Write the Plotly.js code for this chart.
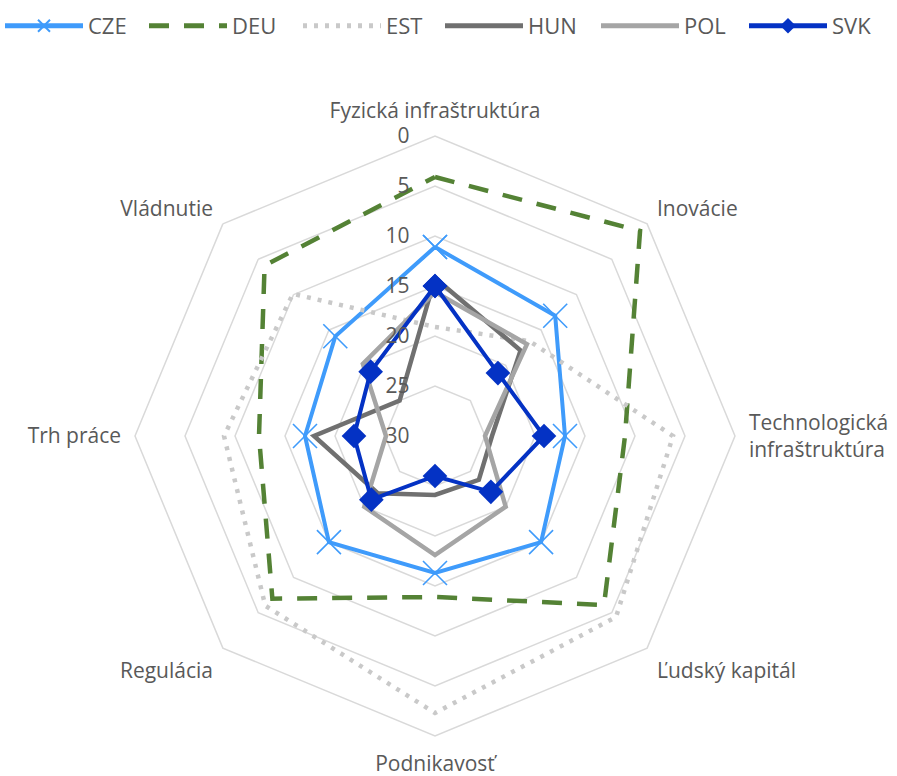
<!DOCTYPE html>
<html>
<head>
<meta charset="utf-8">
<script src="https://cdn.plot.ly/plotly-3.0.1.min.js"></script>
<style>
  html, body { margin: 0; padding: 0; background: #ffffff; }
  #chart { width: 897px; height: 776px; }
</style>
</head>
<body>
<div id="chart"></div>
<script>
// Pillars of competitiveness (rank, lower is better; 0 sits on the outer ring)
const pillars = [
  'Fyzická infraštruktúra',
  'Inovácie',
  'Technologická<br>infraštruktúra',
  'Ľudský kapitál',
  'Podnikavosť',
  'Regulácia',
  'Trh práce',
  'Vládnutie'
];

const countries = ['CZE', 'DEU', 'EST', 'HUN', 'POL', 'SVK'];

const cze = [11.1, 13.0, 17.0, 15.0, 16.3, 15.0, 17.0, 15.9];
const deu = [4.1, 1.0, 11.0, 6.1, 13.9, 7.0, 12.4, 5.9];
const est = [19.1, 16.6, 6.2, 4.4, 2.3, 6.0, 8.9, 9.9];
const hun = [14.2, 17.9, 24.3, 23.8, 24.1, 21.9, 17.9, 25.0];
const pol = [15.6, 17.0, 25.0, 20.0, 18.1, 20.0, 25.1, 19.8];
const svk = [15.0, 21.1, 19.1, 22.1, 26.0, 21.0, 21.9, 20.9];

const radialTicks = [0, 5, 10, 15, 20, 25, 30];

// close each polygon by repeating its first vertex
function closed(arr) { return arr.concat([arr[0]]); }

const styles = {
  CZE: { line: { color: '#3f9bfb', width: 4 }, mode: 'lines+markers', legendwidth: 51,
         marker: { symbol: 'x-thin', size: 24, line: { color: '#3f9bfb', width: 1.6 } } },
  DEU: { line: { color: '#548235', width: 4.5, dash: '20px,15px' }, mode: 'lines', legendwidth: 61 },
  EST: { line: { color: '#c9c9c9', width: 4.5, dash: '4px,7px' }, mode: 'lines', legendwidth: 49 },
  HUN: { line: { color: '#707070', width: 4.5 }, mode: 'lines', legendwidth: 63 },
  POL: { line: { color: '#a5a5a5', width: 4.5 }, mode: 'lines', legendwidth: 55 },
  SVK: { line: { color: '#0432c4', width: 4 }, mode: 'lines+markers', legendwidth: 50,
         marker: { symbol: 'diamond', size: 19, color: '#0432c4' } }
};

const series = { CZE: cze, DEU: deu, EST: est, HUN: hun, POL: pol, SVK: svk };

const traces = countries.map(name => Object.assign({
  type: 'scatterpolar',
  name: name,
  r: closed(series[name]),
  theta: closed(pillars),
  hoverinfo: 'name+r+theta'
}, styles[name]));

const W = 897, H = 776;
const cx = 435, cy = 436, R = 300;

// radial labels sit to the left of the vertical spoke
const padRight = '\u00a0\u00a0\u00a0\u00a0';

const layout = {
  width: W,
  height: H,
  margin: { l: 0, r: 0, t: 0, b: 0 },
  paper_bgcolor: '#ffffff',
  font: { family: 'Open Sans, Noto Sans, sans-serif', size: 21, color: '#595959' },
  showlegend: true,
  legend: {
    orientation: 'h',
    x: 0, y: 1 - 5 / H, xanchor: 'left', yanchor: 'top',
    itemwidth: 78,
    entrywidthmode: 'pixels',
    itemsizing: 'constant',
    font: { size: 22, color: '#595959' },
    bgcolor: 'rgba(0,0,0,0)'
  },
  polar: {
    domain: {
      x: [(cx - R) / W, (cx + R) / W],
      y: [(H - cy - R) / H, (H - cy + R) / H]
    },
    gridshape: 'linear',
    bgcolor: '#ffffff',
    radialaxis: {
      range: [30, 0],
      tickvals: radialTicks,
      ticktext: radialTicks.map(v => String(v) + padRight),
      angle: 90,
      tickangle: 90,
      side: 'counterclockwise',
      showline: false,
      ticks: '',
      showgrid: true,
      gridcolor: '#d9d9d9',
      gridwidth: 1.5,
      tickfont: { size: 21, color: '#595959' }
    },
    angularaxis: {
      type: 'category',
      categoryarray: pillars,
      direction: 'clockwise',
      rotation: 90,
      showgrid: false,
      showline: true,
      linecolor: '#d9d9d9',
      linewidth: 1.5,
      ticks: 'outside',
      ticklen: 9,
      tickcolor: 'rgba(0,0,0,0)',
      tickfont: { size: 21, color: '#595959' }
    }
  }
};

Plotly.newPlot('chart', traces, layout, { displayModeBar: false, staticPlot: true });
</script>
</body>
</html>
